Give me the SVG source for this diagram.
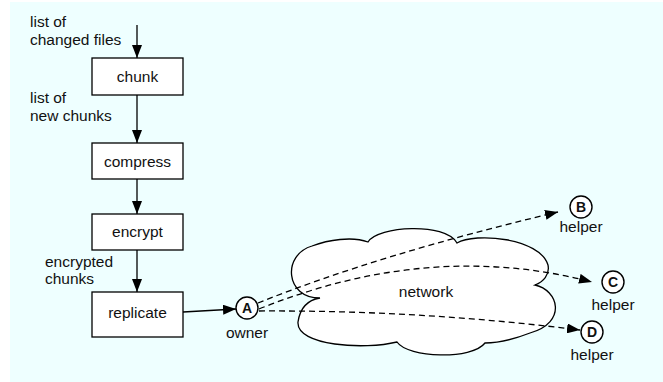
<svg xmlns="http://www.w3.org/2000/svg" width="663" height="382" viewBox="0 0 663 382">
<defs>
<style>
text{font-family:"Liberation Sans",Arial,sans-serif;font-size:15.5px;fill:#111}
.box{fill:#fff;stroke:#000;stroke-width:1.3}
.c{text-anchor:middle}
.node{fill:#fff;stroke:#000;stroke-width:1.4}
.lbl{font-weight:bold;font-size:14px;text-anchor:middle}
.ln{fill:none;stroke:#000;stroke-width:1.3}
.dash{fill:none;stroke:#000;stroke-width:1.3;stroke-dasharray:6 4}
</style>
<marker id="ah" markerUnits="userSpaceOnUse" markerWidth="14" markerHeight="10" refX="13" refY="5" orient="auto">
<path d="M0,0 L13,5 L0,10 z" fill="#000"/>
</marker>
</defs>
<rect x="10" y="2" width="653" height="380" fill="#EEFFFF"/>
<g id="cloud">
<path d="M320,298 C285,298 282,255 312,246 C328,240 352,236 368,242 C378,226 445,222 457,243 C475,232 540,238 548,265 C550,275 543,282 535,285 C558,290 568,322 530,333 C512,340 495,343 485,343 C472,360 408,358 397,342 C365,350 296,346 298,322 C300,308 308,300 320,298 Z" fill="#fff" stroke="#000" stroke-width="1.3"/>
<text class="c" x="426" y="297">network</text>
</g>
<g id="connectors">
<line class="ln" x1="137" y1="25" x2="137" y2="58" marker-end="url(#ah)"/>
<line class="ln" x1="137" y1="95" x2="137" y2="143" marker-end="url(#ah)"/>
<line class="ln" x1="137" y1="179" x2="137" y2="214" marker-end="url(#ah)"/>
<line class="ln" x1="137" y1="250" x2="137" y2="292" marker-end="url(#ah)"/>
<line class="ln" x1="183" y1="312" x2="236" y2="309" marker-end="url(#ah)"/>
<path class="dash" d="M258,303 Q380,254 558,212" marker-end="url(#ah)"/>
<path class="dash" d="M259,309 Q430,240 592,282" marker-end="url(#ah)"/>
<path class="dash" d="M259,311 Q420,310 580,330" marker-end="url(#ah)"/>
</g>
<g id="labels">
<text x="30" y="27">list of</text>
<text x="30" y="45">changed files</text>
<text x="30" y="103">list of</text>
<text x="30" y="121">new chunks</text>
<text x="45" y="267">encrypted</text>
<text x="45" y="284">chunks</text>
</g>
<g id="chunk"><rect class="box" x="92" y="58" width="91" height="37"/><text class="c" x="137.5" y="82">chunk</text></g>
<g id="compress"><rect class="box" x="92" y="143" width="91" height="36"/><text class="c" x="137.5" y="167">compress</text></g>
<g id="encrypt"><rect class="box" x="92" y="214" width="91" height="36"/><text class="c" x="137.5" y="237">encrypt</text></g>
<g id="replicate"><rect class="box" x="92" y="292" width="91" height="45"/><text class="c" x="137.5" y="318">replicate</text></g>
<g id="A"><circle class="node" cx="247" cy="308" r="11"/><text class="lbl" x="247" y="313">A</text><text class="c" x="247" y="338">owner</text></g>
<g id="B"><circle class="node" cx="581" cy="207" r="11"/><text class="lbl" x="581" y="212">B</text><text class="c" x="581" y="232">helper</text></g>
<g id="C"><circle class="node" cx="613" cy="282" r="11"/><text class="lbl" x="613" y="287">C</text><text class="c" x="613" y="310">helper</text></g>
<g id="D"><circle class="node" cx="592" cy="332" r="11"/><text class="lbl" x="592" y="337">D</text><text class="c" x="592" y="360">helper</text></g>
</svg>
